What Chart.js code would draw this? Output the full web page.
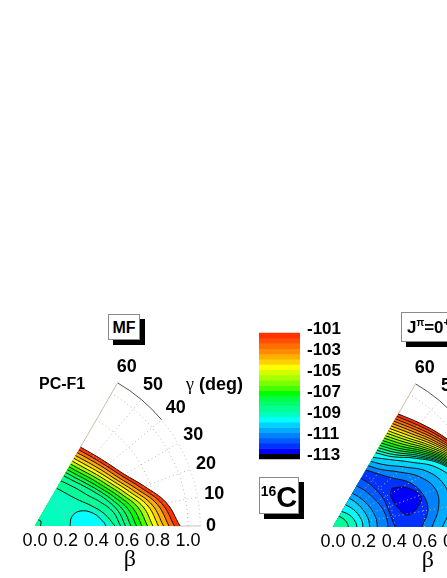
<!DOCTYPE html>
<html>
<head>
<meta charset="utf-8">
<title>16C energy surfaces</title>
<script src="https://cdn.jsdelivr.net/npm/chart.js@4/dist/chart.umd.min.js"></script>
<style>
    html, body { margin: 0; padding: 0; background: #fff; }
    body { position: relative; width: 447px; height: 578px; overflow: hidden; font-family: "Liberation Sans", Arial, sans-serif; color: #000; }
    canvas { position: absolute; display: block; }
    .tag { position: absolute; box-sizing: border-box; background: #fff; border: 1px solid #8a8a8a; box-shadow: 5px 5px 0 #000; font-weight: bold; white-space: nowrap; }
    .note { position: absolute; font-weight: bold; white-space: nowrap; line-height: 1; }
    sup { line-height: 0; }
</style>
</head>
<body>
<canvas id="mfChart" width="250" height="228" style="left:0;top:350px"></canvas>
<canvas id="scaleChart" width="95" height="200" style="left:250px;top:292px"></canvas>
<canvas id="gcmChart" width="250" height="228" style="left:298px;top:351px"></canvas>

<div class="tag" style="left:108px;top:314px;width:32px;height:26px;font-size:16px;line-height:25px;text-align:center">MF</div>
<div class="note" style="left:39px;top:376px;font-size:16px">PC-F1</div>
<div class="note" style="left:186px;top:375px;font-size:18px"><span style="font-family:'Liberation Serif';font-weight:normal">γ</span> (deg)</div>
<div class="tag" style="left:259px;top:477px;width:40px;height:37px;font-size:29px;line-height:38px;text-align:center"><sup style="font-size:14px">16</sup>C</div>
<div class="tag" style="left:401px;top:312px;width:60px;height:30px;font-size:17px;line-height:29px;padding-left:5px">J<sup style="font-size:10px">π</sup>=0<sup style="font-size:11px">+</sup></div>

<script>
// ========================================
// DATA (beta read along fixed gamma rays)
// ========================================

const betaTicks = [0, 0.2, 0.4, 0.6, 0.8, 1.0];
const gammaTicks = [0, 10, 20, 30, 40, 50, 60];
const gammaLabelBeta = [1.15, 1.19, 1.19, 1.195, 1.2, 1.2, 1.2];
const energyTicks = [-113, -111, -109, -107, -105, -103, -101];

// Color scale, top band to bottom band
const scaleTop = -101.5;
const scaleStep = 0.5;
const bandColors = [
    '#ff3300', '#ff5000', '#ff6e00', '#ff8c00', '#ffaf00', '#ffd200', '#ffff00', '#d2ff00',
    '#aaff00', '#78ff00', '#46ff00', '#00ff00', '#00ff46', '#00ff6e', '#00ff96', '#00ffbe',
    '#00ffff', '#00d2ff', '#00aaff', '#0082ff', '#005aff', '#0032ff', '#0000ff', '#000000'
];

// MF panel: walls, outermost first
const mfWalls = [
    [0.948, 0.872, 0.760, 0.675, 0.630, 0.605, 0.595],
    [0.912, 0.842, 0.735, 0.655, 0.610, 0.585, 0.574],
    [0.876, 0.812, 0.708, 0.632, 0.590, 0.564, 0.553],
    [0.840, 0.780, 0.682, 0.610, 0.568, 0.542, 0.531],
    [0.807, 0.750, 0.657, 0.588, 0.546, 0.520, 0.510],
    [0.771, 0.718, 0.630, 0.565, 0.524, 0.498, 0.489],
    [0.735, 0.686, 0.604, 0.542, 0.502, 0.476, 0.467],
    [0.699, 0.653, 0.578, 0.518, 0.480, 0.455, 0.446],
    [0.663, 0.620, 0.552, 0.495, 0.457, 0.433, 0.424],
    [0.627, 0.587, 0.525, 0.472, 0.434, 0.411, 0.403],
    [0.591, 0.553, 0.498, 0.446, 0.410, 0.387, 0.378],
    [0.559, 0.520, 0.456, 0.400, 0.370, 0.350, 0.340],
    [0.523, 0.460, 0.390, 0.335, 0.305, 0.290, 0.285]
];
const mfWallBands = [0, 2, 4, 5, 6, 8, 10, 11, 12, 13, 14, 14, 15];
const mfCaps = [];
const mfCapBands = [];
const mfPocket = [[0.037, 0], [0.05, 41], [0.045, 60]];
const mfPocketBand = 14;
const mfBasin = [[0.229, 0], [0.248, 14], [0.31, 18.4], [0.39, 12.3], [0.447, 3.6], [0.464, 0]];
const mfBasinBand = 16;

// Beam-corrected panel: walls, outermost first
const gcmWalls = [
    [1.060, 1.050, 1.020, 0.980, 0.930, 0.885, 0.853],
    [1.050, 1.040, 1.012, 0.970, 0.916, 0.867, 0.835],
    [1.040, 1.030, 1.005, 0.960, 0.901, 0.849, 0.816],
    [1.030, 1.020, 0.997, 0.950, 0.887, 0.832, 0.798],
    [1.020, 1.010, 0.990, 0.940, 0.872, 0.814, 0.780],
    [1.010, 1.000, 0.982, 0.930, 0.858, 0.796, 0.762],
    [1.000, 0.990, 0.975, 0.920, 0.844, 0.778, 0.743],
    [0.990, 0.980, 0.967, 0.910, 0.829, 0.760, 0.725],
    [0.980, 0.970, 0.960, 0.900, 0.815, 0.743, 0.707],
    [0.970, 0.960, 0.952, 0.890, 0.800, 0.725, 0.688],
    [0.960, 0.950, 0.945, 0.880, 0.786, 0.707, 0.670],
    [0.950, 0.940, 0.937, 0.870, 0.772, 0.689, 0.652],
    [0.940, 0.930, 0.930, 0.860, 0.757, 0.671, 0.633],
    [0.930, 0.920, 0.922, 0.850, 0.743, 0.654, 0.615],
    [0.920, 0.910, 0.915, 0.840, 0.728, 0.636, 0.597],
    [0.905, 0.900, 0.907, 0.830, 0.714, 0.618, 0.578],
    [0.860, 0.890, 0.900, 0.820, 0.700, 0.600, 0.560],
    [0.790, 0.840, 0.850, 0.780, 0.660, 0.575, 0.525],
    [0.716, 0.780, 0.780, 0.720, 0.610, 0.530, 0.495],
    [0.647, 0.700, 0.715, 0.655, 0.560, 0.490, 0.462],
    [0.580, 0.630, 0.625, 0.580, 0.500, 0.455, 0.430]
];
const gcmWallBands = [0, 1, 2, 3, 4, 5, 6, 7, 8, 9, 10, 11, 12, 13, 14, 15, 16, 17, 18, 19, 21];
// Arcs around the origin, largest first
const gcmCaps = [
    [0.405, 0.385, 0.378, 0.378, 0.372, 0.370, 0.367],
    [0.360, 0.355, 0.345, 0.332, 0.322, 0.315, 0.310],
    [0.290, 0.287, 0.280, 0.272, 0.264, 0.258, 0.254],
    [0.240, 0.238, 0.232, 0.226, 0.222, 0.218, 0.216],
    [0.196, 0.194, 0.188, 0.182, 0.176, 0.170, 0.166],
    [0.157, 0.152, 0.145, 0.138, 0.130, 0.122, 0.116],
    [0.100, 0.098, 0.094, 0.090, 0.086, 0.082, 0.080]
];
const gcmCapBands = [20, 19, 18, 17, 16, 15, 14];
const gcmBasin = [[0.46, 33.4], [0.537, 28.9], [0.606, 20.2], [0.589, 15.2], [0.498, 9], [0.444, 16], [0.428, 27.6], [0.46, 33.4]];
const gcmBasinBand = 22;

// ========================================
// HELPERS
// ========================================

const BETA_MAX = 1.08;
const ORIGIN = { x: 0, y: 0 };

const toXY = (beta, gamma) => {
    const rad = gamma * Math.PI / 180;
    return { x: beta * Math.cos(rad), y: beta * Math.sin(rad) };
};

const contourPoints = (betas) => betas.map((b, i) => toXY(b, gammaTicks[i]));

// Repeated end points keep the spline from bending towards the origin
const closedToOrigin = (points) => {
    const first = points[0];
    const last = points[points.length - 1];
    return [ORIGIN, first, first, ...points.slice(1, -1), last, last, ORIGIN];
};

const fillSet = (data, color) => ({
    data, showLine: true, pointRadius: 0, borderWidth: 0, tension: 0.4,
    backgroundColor: color, fill: 'shape', clip: false
});

const lineSet = (data) => ({
    data, showLine: true, pointRadius: 0, borderWidth: 1, borderColor: '#111',
    tension: 0.4, fill: false, clip: false
});

const gridSet = (data, color, dash) => ({
    data, showLine: true, pointRadius: 0, borderWidth: 1, borderColor: color,
    borderDash: dash || [], tension: 0, fill: false, clip: false
});

// Outer frame, drawn under the fills
const frameSets = () => {
    const faint = [];
    for (let g = 0; g <= 40; g += 5) faint.push(toXY(BETA_MAX, g));
    const rim = [];
    for (let g = 40; g <= 60; g += 5) rim.push(toXY(BETA_MAX, g));
    return [
        gridSet(faint, '#c4c4c4', [1, 3]),
        gridSet(rim, '#555555'),
        gridSet([ORIGIN, toXY(BETA_MAX, 60)], '#c9bda6'),
        gridSet([toXY(0.9, 0), toXY(BETA_MAX, 0)], '#c4c4c4')
    ];
};

// Polar grid, drawn over the fills
const gridSets = () => {
    const sets = [];
    [0.2, 0.4, 0.6, 0.8, 1.0].forEach(b => {
        const arc = [];
        for (let g = 0; g <= 60; g += 5) arc.push(toXY(b, g));
        sets.push(gridSet(arc, '#b9b9b9', [1, 3]));
    });
    gammaTicks.slice(1, -1).forEach(g => {
        sets.push(gridSet([toXY(0.2, g), toXY(BETA_MAX, g)], '#b9b9b9', [1, 3]));
    });
    return sets;
};

const buildPanelSets = (panel) => {
    const sets = frameSets();
    panel.walls.forEach((betas, i) => {
        sets.push(fillSet(closedToOrigin(contourPoints(betas)), bandColors[panel.wallBands[i]]));
    });
    panel.caps.forEach((betas, i) => {
        sets.push(fillSet(closedToOrigin(contourPoints(betas)), bandColors[panel.capBands[i]]));
    });
    const basin = panel.basin.map(p => toXY(p[0], p[1]));
    sets.push(fillSet(basin, bandColors[panel.basinBand]));
    if (panel.pocket) {
        sets.push(fillSet(closedToOrigin(panel.pocket.map(p => toXY(p[0], p[1]))), bandColors[panel.pocketBand]));
    }
    sets.push(...gridSets());
    panel.walls.concat(panel.caps).forEach(betas => sets.push(lineSet(contourPoints(betas))));
    sets.push(lineSet(basin));
    if (panel.pocket) sets.push(lineSet(panel.pocket.map(p => toXY(p[0], p[1]))));
    // Chart.js paints the first dataset last unless told otherwise
    sets.forEach((s, i) => { s.order = sets.length - i; });
    return sets;
};

// Gamma tick labels and the beta label
const polarLabels = {
    id: 'polarLabels',
    afterDraw(chart) {
        const { ctx, scales, chartArea } = chart;
        ctx.save();
        ctx.fillStyle = '#000';
        ctx.textAlign = 'center';
        ctx.textBaseline = 'middle';
        ctx.font = 'bold 18px "Liberation Sans"';
        gammaTicks.forEach((g, i) => {
            const p = toXY(gammaLabelBeta[i], g);
            ctx.fillText(String(g), scales.x.getPixelForValue(p.x), scales.y.getPixelForValue(p.y));
        });
        ctx.font = '24px "Liberation Serif"';
        ctx.fillText('β', scales.x.getPixelForValue(0.62), chartArea.bottom + 34);
        ctx.restore();
    }
};

const createPanel = (id, panel) => new Chart(document.getElementById(id), {
    type: 'scatter',
    data: { datasets: buildPanelSets(panel) },
    plugins: [polarLabels],
    options: {
        responsive: false,
        animation: false,
        events: [],
        layout: { padding: { left: 35, right: 49.76, top: 32.9, bottom: 0 } },
        plugins: { legend: { display: false }, tooltip: { enabled: false } },
        scales: {
            x: {
                type: 'linear',
                min: 0,
                max: BETA_MAX,
                grid: { display: false, drawTicks: false },
                border: { display: false },
                afterBuildTicks: (scale) => { scale.ticks = betaTicks.map(value => ({ value })); },
                afterFit: (scale) => { scale.height = 52; },
                ticks: {
                    autoSkip: false,
                    maxRotation: 0,
                    padding: 4,
                    color: '#000',
                    font: { family: 'Liberation Sans', size: 18 },
                    callback: (v) => Number(v).toFixed(1)
                }
            },
            y: { type: 'linear', display: false, min: 0, max: BETA_MAX * Math.sin(Math.PI / 3) }
        }
    }
});

// ========================================
// CHARTS
// ========================================

createPanel('mfChart', {
    walls: mfWalls, wallBands: mfWallBands,
    caps: mfCaps, capBands: mfCapBands,
    pocket: mfPocket, pocketBand: mfPocketBand,
    basin: mfBasin, basinBand: mfBasinBand
});

createPanel('gcmChart', {
    walls: gcmWalls, wallBands: gcmWallBands,
    caps: gcmCaps, capBands: gcmCapBands,
    basin: gcmBasin, basinBand: gcmBasinBand
});

// Color scale: one floating bar per band
new Chart(document.getElementById('scaleChart'), {
    type: 'bar',
    data: {
        labels: ['E'],
        datasets: bandColors.map((color, i) => ({
            data: [[scaleTop - (i + 1) * scaleStep, scaleTop - i * scaleStep]],
            backgroundColor: color,
            borderWidth: 0
        }))
    },
    options: {
        responsive: false,
        animation: false,
        events: [],
        layout: { padding: { left: 9, right: 0, top: 30.5, bottom: 27.75 } },
        plugins: { legend: { display: false }, tooltip: { enabled: false } },
        datasets: { bar: { grouped: false, barPercentage: 1, categoryPercentage: 1 } },
        scales: {
            x: { display: false },
            y: {
                position: 'right',
                min: -114,
                max: -100.5,
                grid: { display: false, drawTicks: false },
                border: { display: false },
                afterBuildTicks: (scale) => { scale.ticks = energyTicks.map(value => ({ value })); },
                afterFit: (scale) => { scale.width = 45; },
                ticks: {
                    autoSkip: false,
                    padding: 7,
                    labelOffset: 1.5,
                    crossAlign: 'near',
                    color: '#000',
                    font: { family: 'Liberation Sans', size: 17, weight: 'bold' },
                    callback: (v) => String(v)
                }
            }
        }
    }
});
</script>
</body>
</html>
